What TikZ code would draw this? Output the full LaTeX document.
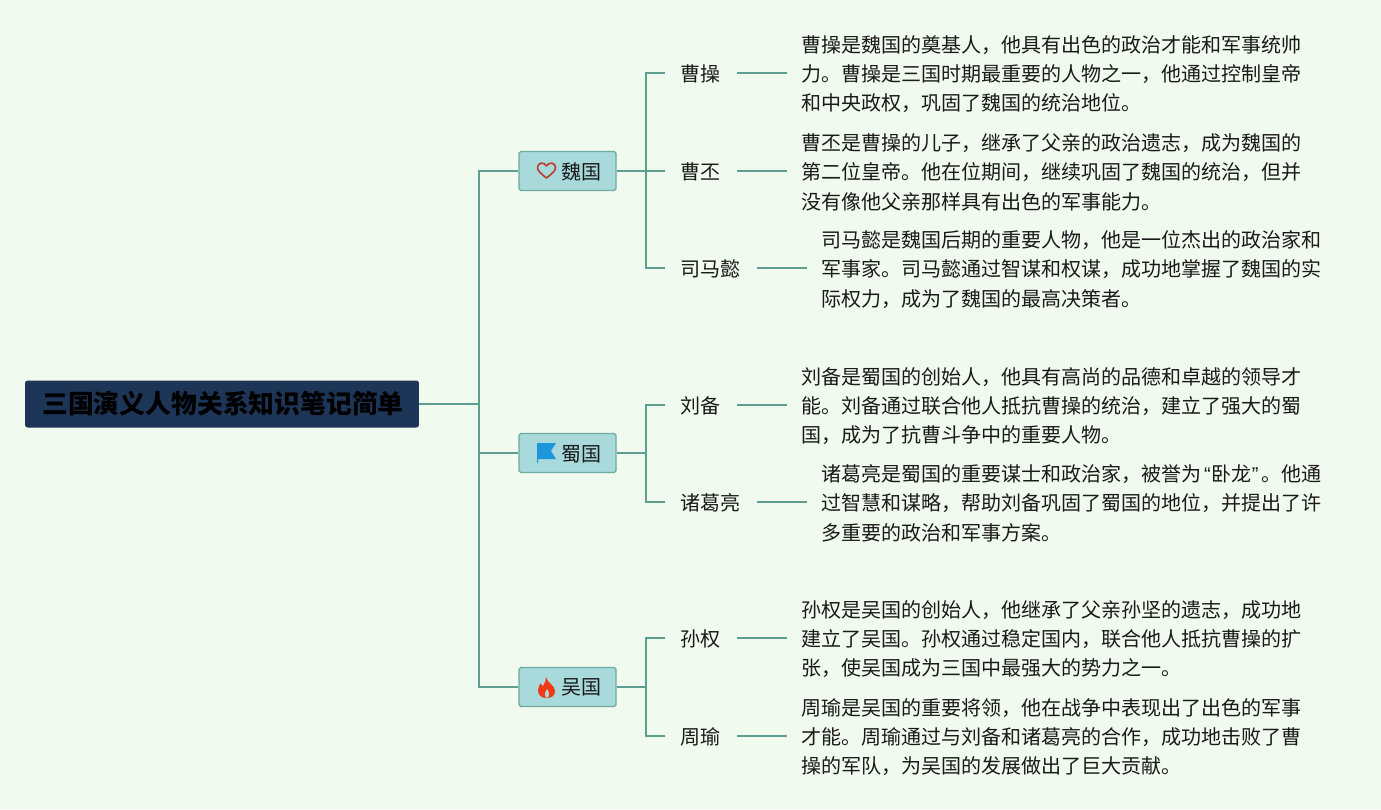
\documentclass[tikz,border=0pt]{standalone}
\usepackage{fontspec}
\setmainfont{Noto Sans CJK SC}
\usetikzlibrary{positioning}
\definecolor{bgcol}{HTML}{F1FAEE}
\definecolor{linkcol}{HTML}{5E9E90}
\definecolor{rootcol}{HTML}{1D3557}
\definecolor{branchcol}{HTML}{A8DADC}
\definecolor{edgecol}{HTML}{6FA8A0}
\definecolor{inkcol}{HTML}{1A1A1A}
\definecolor{heartcol}{HTML}{C0392B}
\definecolor{flagcol}{HTML}{1E96DC}
\definecolor{flamecol}{HTML}{F03A17}
\newcommand{\quoteL}{\hspace{0.05cm}{\fontspec{Liberation Sans}“}\hspace{0.01cm}}
\newcommand{\quoteR}{\hspace{0.01cm}{\fontspec{Liberation Sans}”}\hspace{0.05cm}}
\tikzset{
  link/.style={draw=linkcol,line width=1.1pt},
  rootbox/.style={fill=rootcol,rounded corners=1.5pt,minimum width=7.88cm,minimum height=0.94cm,inner sep=0pt,
    font=\fontsize{14.7}{18}\selectfont\bfseries,text=black},
  branchbox/.style={fill=branchcol,draw=edgecol,line width=0.7pt,rounded corners=1pt,minimum width=1.94cm,minimum height=0.78cm,inner sep=0pt,
    text depth=0pt,font=\fontsize{11.4}{14}\selectfont,text=inkcol},
  person/.style={anchor=west,inner xsep=0.31cm,inner ysep=2pt,text depth=0pt,font=\fontsize{11.4}{14}\selectfont,text=inkcol},
  para/.style={inner xsep=0.28cm,inner ysep=0pt,yshift=-0.025cm,align=left,font=\fontsize{11.4}{16.7}\selectfont,text=inkcol}
}
\begin{document}
\begin{tikzpicture}[x=0.02cm,y=-0.02cm,node distance=1cm]
\fill[bgcol] (0,0) rectangle (1381,809);
\useasboundingbox (0,0) rectangle (1381,809);
% root and kingdoms
\node[rootbox] (root) at (222,404) {\hspace*{0.04cm}三国演义人物关系知识笔记简单};
\node[branchbox] (wei) at (567.5,171) {\hspace*{0.56cm}魏国};
\node[branchbox] (shu) at (567.5,453) {\hspace*{0.56cm}蜀国};
\node[branchbox] (wu) at (567.5,687) {\hspace*{0.56cm}吴国};
% people
\node[person] (cao) at (665,73) {曹操};
\node[person] (pi) at (665,171) {曹丕};
\node[person] (sima) at (665,268) {司马懿};
\node[person] (bei) at (665,405) {刘备};
\node[person] (liang) at (665,502) {诸葛亮};
\node[person] (quan) at (665,638) {孙权};
\node[person] (yu) at (665,736) {周瑜};
% notes
\node[para,right=of cao] (caoNote) {曹操是魏国的奠基人，他具有出色的政治才能和军事统帅\\力。曹操是三国时期最重要的人物之一，他通过控制皇帝\\和中央政权，巩固了魏国的统治地位。};
\node[para,right=of pi] (piNote) {曹丕是曹操的儿子，继承了父亲的政治遗志，成为魏国的\\第二位皇帝。他在位期间，继续巩固了魏国的统治，但并\\没有像他父亲那样具有出色的军事能力。};
\node[para,right=of sima] (simaNote) {司马懿是魏国后期的重要人物，他是一位杰出的政治家和\\军事家。司马懿通过智谋和权谋，成功地掌握了魏国的实\\际权力，成为了魏国的最高决策者。};
\node[para,right=of bei] (beiNote) {刘备是蜀国的创始人，他具有高尚的品德和卓越的领导才\\能。刘备通过联合他人抵抗曹操的统治，建立了强大的蜀\\国，成为了抗曹斗争中的重要人物。};
\node[para,right=of liang] (liangNote) {诸葛亮是蜀国的重要谋士和政治家，被誉为\quoteL 卧龙\quoteR。他通\\过智慧和谋略，帮助刘备巩固了蜀国的地位，并提出了许\\多重要的政治和军事方案。};
\node[para,right=of quan] (quanNote) {孙权是吴国的创始人，他继承了父亲孙坚的遗志，成功地\\建立了吴国。孙权通过稳定国内，联合他人抵抗曹操的扩\\张，使吴国成为三国中最强大的势力之一。};
\node[para,right=of yu] (yuNote) {周瑜是吴国的重要将领，他在战争中表现出了出色的军事\\才能。周瑜通过与刘备和诸葛亮的合作，成功地击败了曹\\操的军队，为吴国的发展做出了巨大贡献。};
% connectors
\coordinate (trunk) at (479,404);
\coordinate (weiBus) at (646,171);
\coordinate (shuBus) at (646,453);
\coordinate (wuBus) at (646,687);
\draw[link] (root.east) -- (trunk);
\foreach \k in {wei,shu,wu} \draw[link] (\k.west) -| (trunk);
\foreach \k in {wei,shu,wu} \draw[link] (\k.east) -- (\k Bus);
\foreach \p in {cao,pi,sima} \draw[link] (\p.west) -| (weiBus);
\foreach \p in {bei,liang} \draw[link] (\p.west) -| (shuBus);
\foreach \p in {quan,yu} \draw[link] (\p.west) -| (wuBus);
\foreach \p in {cao,pi,sima,bei,liang,quan,yu} \draw[link] (\p.east) -- (\p.east -| \p Note.west);
% icons
\draw[draw=heartcol,line width=0.9pt,line join=round] (546.5,178) .. controls (541,173.5) and (537.5,171) .. (537.5,167.5) .. controls (537.5,162.5) and (544,161.5) .. (546.5,166) .. controls (549,161.5) and (555.5,162.5) .. (555.5,167.5) .. controls (555.5,171) and (552,173.5) .. (546.5,178) -- cycle;
\fill[flagcol] (537,443) -- (556,443) -- (551,451) -- (556,459) -- (538.2,459) -- (538.2,463) -- (537,463) -- cycle;
\fill[flamecol] (546,677) .. controls (547,683) and (555,685) .. (555,691) .. controls (555,696) and (551,698) .. (547,698) .. controls (541,698) and (538,695) .. (538,690) .. controls (538,687) and (540,684) .. (541,683) .. controls (541.5,685) and (542,686) .. (543,686) .. controls (545,683) and (546,680) .. (546,677) -- cycle;
\fill[branchcol] (547,698) .. controls (545,697) and (544.5,695) .. (545,693) .. controls (545.5,691.5) and (546.5,690.5) .. (547,689) .. controls (548,691) and (549.5,692) .. (549,694.5) .. controls (549,696) and (548.5,697) .. (547,698) -- cycle;
\end{tikzpicture}
\end{document}
